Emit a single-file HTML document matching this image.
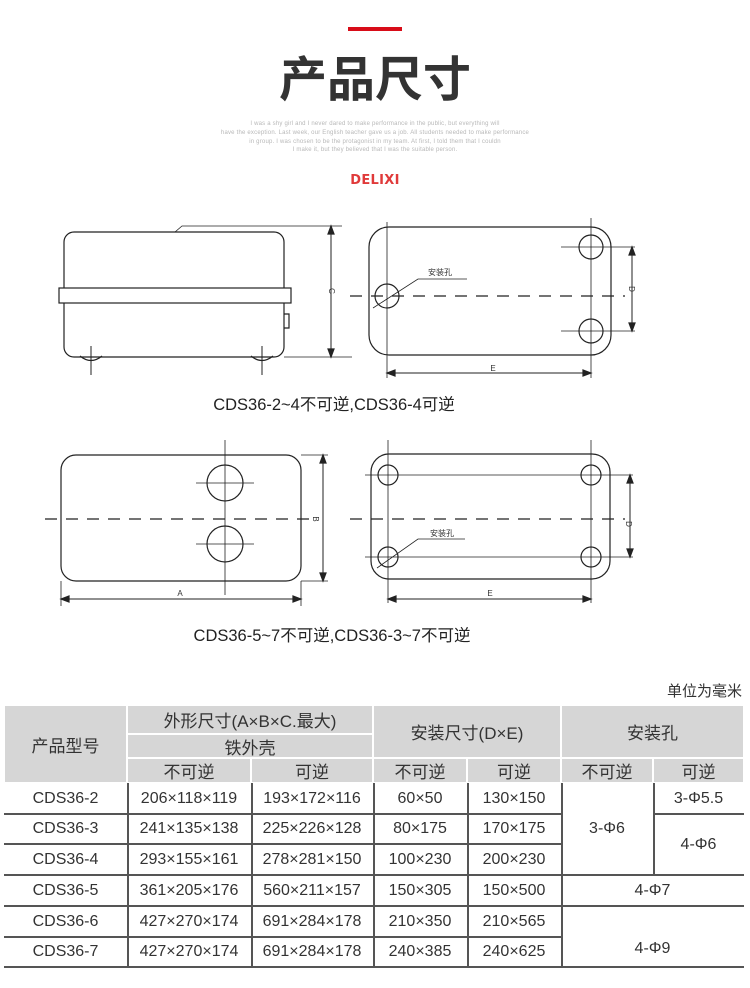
<!DOCTYPE html>
<html><head><meta charset="utf-8"><style>
*{margin:0;padding:0;box-sizing:border-box}
body{width:750px;height:988px;background:#fff;position:relative;overflow:hidden;font-family:"Liberation Sans","Noto Sans CJK SC",sans-serif;color:#333}
.a{position:absolute}
.t{position:absolute;display:flex;align-items:center;justify-content:center;white-space:nowrap}
.h{background:#d6d6d6;border:1px solid #fff;font-size:17px;color:#333}
.d{font-size:16px;color:#333}
.hl{position:absolute;height:1.5px;background:#555}
.vl{position:absolute;width:1.5px;background:#555}
.s{font-size:6px;color:#b8b8b8;text-align:center;width:750px;left:0;letter-spacing:.2px}
</style></head><body>
<div class="a" style="left:348px;top:27px;width:54px;height:4px;background:#d80c18"></div>
<div class="t" style="left:0;top:44px;width:750px;height:62px;font-size:48px;font-weight:bold;color:#333;font-family:'Noto Sans CJK SC',sans-serif">产品尺寸</div>
<div class="a s" style="top:121px">I was a shy girl and I never dared to make performance in the public, but everything will</div>
<div class="a s" style="top:130px">have the exception. Last week, our English teacher gave us a job. All students needed to make performance</div>
<div class="a s" style="top:139px">in group. I was chosen to be the protagonist in my team. At first, I told them that I couldn</div>
<div class="a s" style="top:147px">I make it, but they believed that I was the suitable person.</div>
<div class="t" style="left:0;top:171px;width:750px;height:18px;font-size:13px;font-weight:bold;color:#e03a3a;font-family:'DejaVu Sans',sans-serif;letter-spacing:.3px">DELIXI</div>

<svg class="a" style="left:0;top:0" width="750" height="988" fill="none" stroke="#222" stroke-width="1.2">
<rect x="64" y="232" width="220" height="125" rx="10"/>
<rect x="59" y="288" width="232" height="15" fill="#fff"/>
<path d="M175 232 L182 226 L342 226 M284 357 L352 357" stroke-width=".8"/>
<path d="M284 314 h5 v14 h-5" />
<path d="M80 356 q11 9 22 0 M251 356 q11 9 22 0"/>
<path d="M91 346 V375 M262 346 V375" stroke-width="1"/>
<path d="M331 228 V355" stroke-width="1"/>
<path d="M331 226 l-3 8 h6z M331 357 l-3 -8 h6z" fill="#222"/>
<text x="0" y="0" transform="translate(329,291) rotate(90)" font-size="8" fill="#333" stroke="none" font-family="Liberation Sans" text-anchor="middle">C</text>
<rect x="369" y="227" width="242" height="128" rx="20"/>
<path d="M387 222 V378 M591 218 V378 M561 247 H635 M561 331 H635" stroke-width=".8"/>
<circle cx="591" cy="247" r="12"/><circle cx="591" cy="331" r="12"/><circle cx="387" cy="296" r="12"/>
<path d="M350 296 H625" stroke-dasharray="12 9" stroke-width="1.3"/>
<path d="M373 308 L418 279 H467" stroke-width=".8"/>
<text x="428" y="275" font-size="8" fill="#333" stroke="none">安装孔</text>
<path d="M632 249 V329" stroke-width="1"/>
<path d="M632 247 l-3 8 h6z M632 331 l-3 -8 h6z" fill="#222"/>
<text transform="translate(629,289) rotate(90)" font-size="8" fill="#333" stroke="none" text-anchor="middle">D</text>
<path d="M389 373 H589" stroke-width="1"/>
<path d="M387 373 l8 -3 v6z M591 373 l-8 -3 v6z" fill="#222"/>
<text x="493" y="371" font-size="8" fill="#333" stroke="none" text-anchor="middle">E</text>
<text x="334" y="410" font-size="16.5" fill="#222" stroke="none" text-anchor="middle" font-family="Liberation Sans,Noto Sans CJK SC,sans-serif">CDS36-2~4不可逆,CDS36-4可逆</text>
<rect x="61" y="455" width="240" height="126" rx="15"/>
<circle cx="225" cy="483" r="18"/><circle cx="225" cy="544" r="18"/>
<path d="M225 440 V595 M196 483 H254 M196 544 H254" stroke-width=".8"/>
<path d="M45 519 H312" stroke-dasharray="12 9" stroke-width="1.3"/>
<path d="M301 455 H328 M301 581 H328 M61 581 V606 M301 581 V606" stroke-width=".8"/>
<path d="M323 457 V579" stroke-width="1"/>
<path d="M323 455 l-3 8 h6z M323 581 l-3 -8 h6z" fill="#222"/>
<text transform="translate(313,519) rotate(90)" font-size="8" fill="#333" stroke="none" text-anchor="middle">B</text>
<path d="M63 599 H299" stroke-width="1"/>
<path d="M61 599 l8 -3 v6z M301 599 l-8 -3 v6z" fill="#222"/>
<text x="180" y="596" font-size="8" fill="#333" stroke="none" text-anchor="middle">A</text>
<rect x="371" y="454" width="239" height="125" rx="18"/>
<circle cx="388" cy="475" r="10"/><circle cx="591" cy="475" r="10"/><circle cx="388" cy="557" r="10"/><circle cx="591" cy="557" r="10"/>
<path d="M365 475 H633 M365 557 H633 M388 440 V603 M591 440 V603" stroke-width=".8"/>
<path d="M350 519 H625" stroke-dasharray="12 9" stroke-width="1.3"/>
<path d="M377 568 L418 539 H465" stroke-width=".8"/>
<text x="430" y="536" font-size="8" fill="#333" stroke="none">安装孔</text>
<path d="M630 477 V555" stroke-width="1"/>
<path d="M630 475 l-3 8 h6z M630 557 l-3 -8 h6z" fill="#222"/>
<text transform="translate(626,524) rotate(90)" font-size="8" fill="#333" stroke="none" text-anchor="middle">D</text>
<path d="M390 599 H589" stroke-width="1"/>
<path d="M388 599 l8 -3 v6z M591 599 l-8 -3 v6z" fill="#222"/>
<text x="490" y="596" font-size="8" fill="#333" stroke="none" text-anchor="middle">E</text>
<text x="332" y="641" font-size="16.5" fill="#222" stroke="none" text-anchor="middle" font-family="Liberation Sans,Noto Sans CJK SC,sans-serif">CDS36-5~7不可逆,CDS36-3~7不可逆</text>
</svg>

<div class="t" style="left:650px;top:680px;width:92px;height:20px;font-size:15px;justify-content:flex-end">单位为毫米</div>

<div class="t h" style="left:4px;top:705px;width:123px;height:78px">产品型号</div>
<div class="t h" style="left:127px;top:705px;width:246px;height:29px">外形尺寸(A×B×C.最大)</div>
<div class="t h" style="left:127px;top:734px;width:246px;height:24px">铁外壳</div>
<div class="t h" style="left:373px;top:705px;width:188px;height:53px">安装尺寸(D×E)</div>
<div class="t h" style="left:561px;top:705px;width:183px;height:53px">安装孔</div>
<div class="t h" style="left:127px;top:758px;width:124px;height:25px">不可逆</div>
<div class="t h" style="left:251px;top:758px;width:122px;height:25px">可逆</div>
<div class="t h" style="left:373px;top:758px;width:94px;height:25px">不可逆</div>
<div class="t h" style="left:467px;top:758px;width:94px;height:25px">可逆</div>
<div class="t h" style="left:561px;top:758px;width:92px;height:25px">不可逆</div>
<div class="t h" style="left:653px;top:758px;width:91px;height:25px">可逆</div>

<div class="hl" style="left:4px;top:813px;width:557px"></div>
<div class="hl" style="left:653px;top:813px;width:91px"></div>
<div class="hl" style="left:4px;top:843px;width:557px"></div>
<div class="hl" style="left:4px;top:874px;width:740px"></div>
<div class="hl" style="left:4px;top:905px;width:740px"></div>
<div class="hl" style="left:4px;top:936px;width:557px"></div>
<div class="hl" style="left:4px;top:966px;width:740px"></div>
<div class="vl" style="left:127px;top:783px;height:184px"></div>
<div class="vl" style="left:251px;top:783px;height:184px"></div>
<div class="vl" style="left:373px;top:783px;height:184px"></div>
<div class="vl" style="left:467px;top:783px;height:184px"></div>
<div class="vl" style="left:561px;top:783px;height:184px"></div>
<div class="vl" style="left:653px;top:783px;height:92px"></div>

<div class="t d" style="left:4px;top:783px;width:123px;height:31px">CDS36-2</div>
<div class="t d" style="left:127px;top:783px;width:124px;height:31px">206×118×119</div>
<div class="t d" style="left:251px;top:783px;width:122px;height:31px">193×172×116</div>
<div class="t d" style="left:373px;top:783px;width:94px;height:31px">60×50</div>
<div class="t d" style="left:467px;top:783px;width:94px;height:31px">130×150</div>
<div class="t d" style="left:653px;top:783px;width:91px;height:31px">3-Φ5.5</div>

<div class="t d" style="left:4px;top:814px;width:123px;height:30px">CDS36-3</div>
<div class="t d" style="left:127px;top:814px;width:124px;height:30px">241×135×138</div>
<div class="t d" style="left:251px;top:814px;width:122px;height:30px">225×226×128</div>
<div class="t d" style="left:373px;top:814px;width:94px;height:30px">80×175</div>
<div class="t d" style="left:467px;top:814px;width:94px;height:30px">170×175</div>
<div class="t d" style="left:561px;top:783px;width:92px;height:92px">3-Φ6</div>
<div class="t d" style="left:653px;top:814px;width:91px;height:61px">4-Φ6</div>

<div class="t d" style="left:4px;top:844px;width:123px;height:31px">CDS36-4</div>
<div class="t d" style="left:127px;top:844px;width:124px;height:31px">293×155×161</div>
<div class="t d" style="left:251px;top:844px;width:122px;height:31px">278×281×150</div>
<div class="t d" style="left:373px;top:844px;width:94px;height:31px">100×230</div>
<div class="t d" style="left:467px;top:844px;width:94px;height:31px">200×230</div>

<div class="t d" style="left:4px;top:875px;width:123px;height:31px">CDS36-5</div>
<div class="t d" style="left:127px;top:875px;width:124px;height:31px">361×205×176</div>
<div class="t d" style="left:251px;top:875px;width:122px;height:31px">560×211×157</div>
<div class="t d" style="left:373px;top:875px;width:94px;height:31px">150×305</div>
<div class="t d" style="left:467px;top:875px;width:94px;height:31px">150×500</div>
<div class="t d" style="left:561px;top:875px;width:183px;height:31px">4-Φ7</div>

<div class="t d" style="left:4px;top:906px;width:123px;height:31px">CDS36-6</div>
<div class="t d" style="left:127px;top:906px;width:124px;height:31px">427×270×174</div>
<div class="t d" style="left:251px;top:906px;width:122px;height:31px">691×284×178</div>
<div class="t d" style="left:373px;top:906px;width:94px;height:31px">210×350</div>
<div class="t d" style="left:467px;top:906px;width:94px;height:31px">210×565</div>

<div class="t d" style="left:4px;top:937px;width:123px;height:30px">CDS36-7</div>
<div class="t d" style="left:127px;top:937px;width:124px;height:30px">427×270×174</div>
<div class="t d" style="left:251px;top:937px;width:122px;height:30px">691×284×178</div>
<div class="t d" style="left:373px;top:937px;width:94px;height:30px">240×385</div>
<div class="t d" style="left:467px;top:937px;width:94px;height:30px">240×625</div>
<div class="t d" style="left:561px;top:906px;width:183px;height:61px;padding-top:24px">4-Φ9</div>
</body></html>
